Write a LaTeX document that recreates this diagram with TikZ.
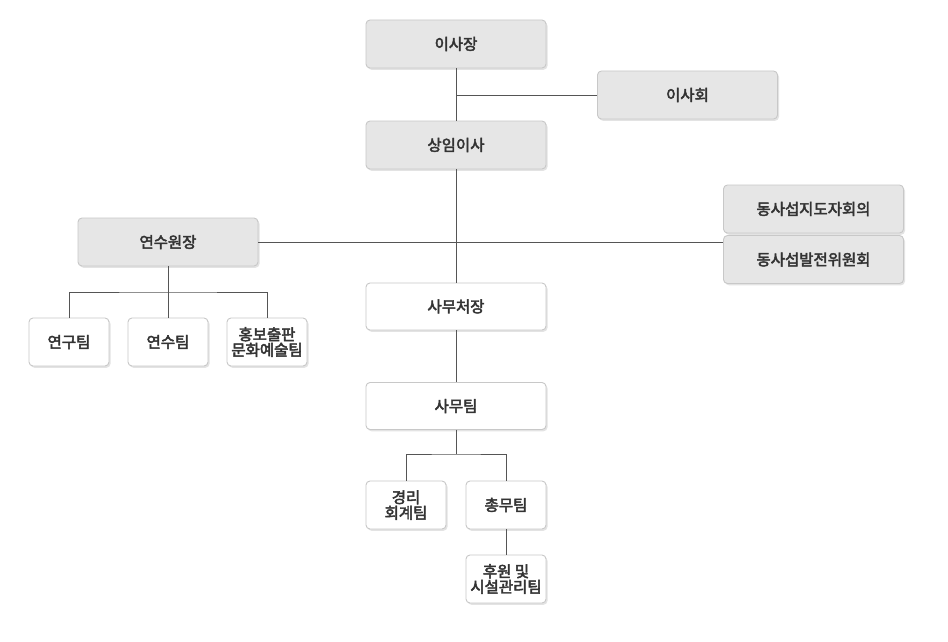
\documentclass[tikz,border=0pt]{standalone}
\usepackage{fontspec}
\setmainfont{Noto Sans CJK KR}[FakeBold=3]
\usetikzlibrary{shadows}
\definecolor{boxgray}{HTML}{E6E6E6}
\definecolor{boxline}{HTML}{C8C8C8}
\definecolor{conn}{HTML}{555555}
\definecolor{txt}{HTML}{333333}
\begin{document}
\begin{tikzpicture}[x=1pt,y=-1pt,
  base/.style={draw=boxline,line width=0.9pt,rounded corners=4pt,align=center,
    text=txt,font=\fontsize{15.5}{17.5}\selectfont,inner sep=0pt,
    drop shadow={shadow xshift=1.5pt,shadow yshift=-1.8pt,fill=black!18,opacity=0.6}},
  graybox/.style={base,fill=boxgray,minimum width=180pt,minimum height=48pt},
  whitebox/.style={base,fill=white,minimum width=180pt,minimum height=47pt},
  smallbox/.style={base,fill=white,minimum width=80pt,minimum height=48pt},
  link/.style={draw=conn,line width=0.95pt}]
\useasboundingbox[fill=white] (0,0) rectangle (948,642);
\node[graybox] (chair) at (456,44) {이사장};
\node[graybox] (board) at (687.5,95) {이사회};
\node[graybox] (exec) at (456,145) {상임이사};
\node[graybox] (inst) at (168,242) {연수원장};
\node[graybox] (dong1) at (813.5,209) {동사섭지도자회의};
\node[graybox] (dong2) at (813.5,259.5) {동사섭발전위원회};
\node[whitebox] (sec) at (456,306.5) {사무처장};
\node[whitebox] (office) at (456,406) {사무팀};
\node[smallbox] (res) at (69,342) {연구팀};
\node[smallbox] (train) at (168,342) {연수팀};
\node[smallbox] (pr) at (267,342) {홍보출판\\[-2pt]문화예술팀};
\node[smallbox] (acct) at (406,505) {경리\\[-2pt]회계팀};
\node[smallbox] (gen) at (506,505) {총무팀};
\node[smallbox] (fac) at (506,579) {후원 및\\[-2pt]시설관리팀};
\coordinate (jb) at (456,95);
\coordinate (ji) at (168,292);
\coordinate (jo) at (456,454);
\draw[link] (chair.south) -- (exec.north);
\draw[link] (jb) -- (board.west);
\draw[link] (exec.south) -- (sec.north);
\draw[link] (inst.east) -- (inst.east -| dong2.west);
\draw[link] (sec.south) -- (office.north);
\draw[link] (inst.south) -- (train.north);
\draw[link] (res.north) |- (ji) -| (pr.north);
\draw[link] (office.south) -- (jo);
\draw[link] (acct.north) |- (jo) -| (gen.north);
\draw[link] (gen.south) -- (fac.north);
\end{tikzpicture}
\end{document}
